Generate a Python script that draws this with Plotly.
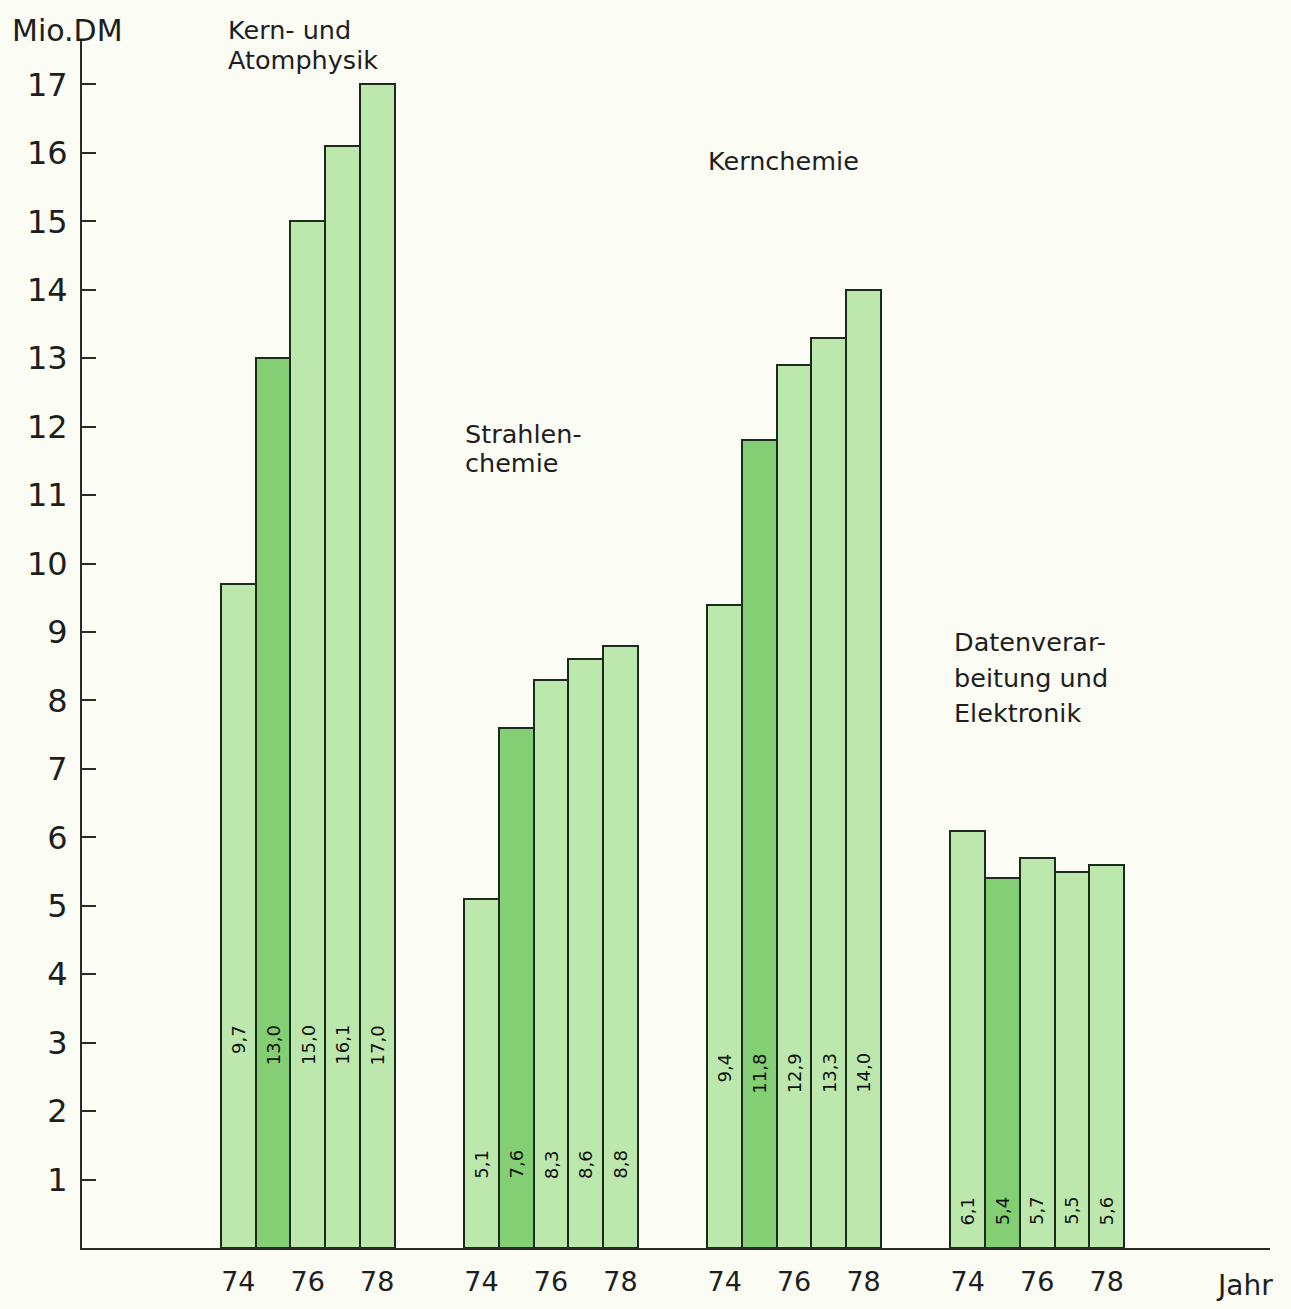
import plotly.graph_objects as go

# Forschungsausgaben in Mio. DM, Jahrgänge 1974-1978
years = [74, 75, 76, 77, 78]
tick_years = [74, 76, 78]
kern_atomphysik = [9.7, 13.0, 15.0, 16.1, 17.0]
strahlenchemie = [5.1, 7.6, 8.3, 8.6, 8.8]
kernchemie = [9.4, 11.8, 12.9, 13.3, 14.0]
datenverarbeitung = [6.1, 5.4, 5.7, 5.5, 5.6]

group_lines = [
    ["Kern- und", "Atomphysik"],
    ["Strahlen-", "chemie"],
    ["Kernchemie"],
    ["Datenverar-", "beitung und", "Elektronik"],
]
series = [kern_atomphysik, strahlenchemie, kernchemie, datenverarbeitung]

# layout of the groups on a numeric x axis (one unit = one bar width)
first_left = 4.0
group_step = 7.0
Y_MAX = 17.65
label_top = [3.27, 1.45, 2.86, 0.77]          # top of rotated value labels
title_pos = [(4.14, 17.79, 0.43), (10.96, 11.90, 0.43),
             (17.96, 15.88, 0.43), (25.04, 8.85, 0.52)]  # x, first line y, line step

LIGHT = "#bde8ad"
DARK = "#84cf73"
EDGE = "#1d2b1d"
INK = "#1e1e1e"
FONT = "DejaVu Sans"

xs, ys, cols = [], [], []
tickvals, ticktext = [], []
annotations = []
for g, vals in enumerate(series):
    left = first_left + group_step * g
    for i, (yr, v) in enumerate(zip(years, vals)):
        xc = left + i + 0.5
        xs.append(xc)
        ys.append(v)
        cols.append(DARK if yr == 75 else LIGHT)
        if yr in tick_years:
            tickvals.append(xc)
            ticktext.append(str(yr))
        annotations.append(dict(
            x=xc, y=label_top[g], xref="x", yref="y",
            text=f"{v:.1f}".replace(".", ","), textangle=-90,
            showarrow=False, xanchor="center", yanchor="top",
            font=dict(family=FONT, size=18, color="#111111"), borderpad=0))
    tx, ty, step = title_pos[g]
    for k, line in enumerate(group_lines[g]):
        # paper coordinates so the heading may sit above the axis range
        annotations.append(dict(
            x=tx, y=(ty - k * step) / Y_MAX, xref="x", yref="paper", text=line,
            showarrow=False, xanchor="left", yanchor="middle",
            font=dict(family=FONT, size=25.5, color=INK)))

annotations.append(dict(x=-0.0606, y=1.008, xref="paper", yref="paper",
                        text="Mio.DM", showarrow=False, xanchor="left",
                        yanchor="middle", font=dict(family=FONT, size=30, color=INK)))
annotations.append(dict(x=1.004, y=-0.031, xref="paper", yref="paper",
                        text="Jahr", showarrow=False, xanchor="right",
                        yanchor="middle", font=dict(family=FONT, size=28, color=INK)))

fig = go.Figure(go.Bar(
    x=xs, y=ys, width=1.0,
    marker=dict(color=cols, line=dict(color=EDGE, width=2)),
    hoverinfo="skip"))

fig.update_layout(
    width=1291, height=1309,
    margin=dict(l=82, r=21, t=40, b=49),
    paper_bgcolor="#fbfcf4", plot_bgcolor="#fbfcf4",
    showlegend=False, bargap=0,
    annotations=annotations,
    xaxis=dict(range=[0, 34.2], showgrid=False, zeroline=False,
               showline=True, linecolor="#2a2a2a", linewidth=2,
               tickvals=tickvals, ticktext=ticktext, ticks="",
               ticklabelstandoff=9,
               tickfont=dict(family=FONT, size=27, color=INK)),
    yaxis=dict(range=[0, Y_MAX], showgrid=False, zeroline=False,
               showline=True, linecolor="#2a2a2a", linewidth=2,
               tickvals=list(range(1, 18)), ticks="inside", ticklen=14,
               tickwidth=2, tickcolor="#2a2a2a", ticklabelstandoff=6,
               tickfont=dict(family=FONT, size=32, color=INK)),
)

fig.write_html("out.html")
